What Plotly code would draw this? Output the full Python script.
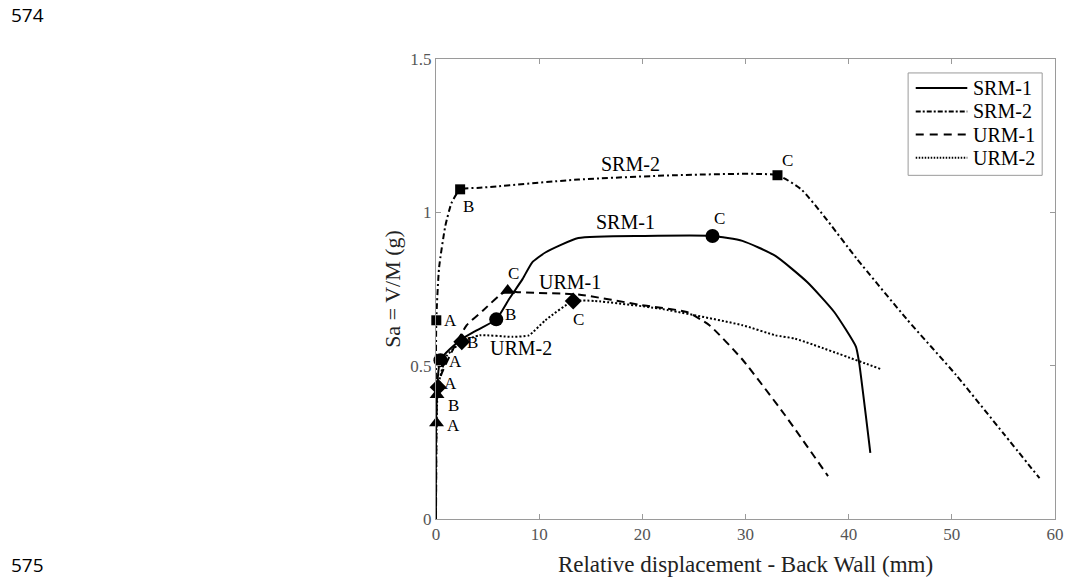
import plotly.graph_objects as go

# Capacity curves: spectral acceleration vs. relative back-wall displacement
srm1_x = [0, 0.43, 2.34, 3.93, 5.84, 7.1, 8.4, 9.33, 10.6, 13.8, 20.2, 26.8, 29.7, 32.9, 36.0, 38.6, 40.7, 41.0, 42.1]
srm1_y = [0, 0.518, 0.583, 0.615, 0.651, 0.718, 0.783, 0.837, 0.869, 0.916, 0.923, 0.923, 0.907, 0.858, 0.772, 0.675, 0.562, 0.513, 0.216]

srm2_x = [0, 0.03, 0.3, 0.9, 1.5, 2.34, 4.25, 13.8, 23.3, 33.1, 35.4, 37.6, 40.8, 45.6, 50.4, 55.1, 58.5]
srm2_y = [0, 0.648, 0.82, 0.955, 1.03, 1.075, 1.080, 1.107, 1.121, 1.121, 1.075, 0.988, 0.848, 0.653, 0.470, 0.275, 0.133]

urm1_x = [0, 0.05, 0.1, 0.5, 1.6, 2.98, 4.56, 6.15, 6.95, 7.75, 13.8, 20.2, 24.3, 26.5, 29.7, 33.8, 38.0]
urm1_y = [0, 0.313, 0.405, 0.47, 0.55, 0.632, 0.680, 0.729, 0.745, 0.740, 0.732, 0.696, 0.675, 0.632, 0.52, 0.340, 0.140]

urm2_x = [0, 0.2, 1.0, 2.5, 4.25, 7.42, 9.0, 10.6, 13.3, 15.4, 21.7, 29.7, 32.9, 34.8, 43.1]
urm2_y = [0, 0.43, 0.53, 0.578, 0.599, 0.594, 0.599, 0.648, 0.711, 0.711, 0.686, 0.632, 0.599, 0.588, 0.489]

# Performance points A, B, C of each specimen
pt_labels = ["A", "B", "C"]
srm1_pts_x = [0.43, 5.84, 26.8]
srm1_pts_y = [0.518, 0.651, 0.923]
srm2_pts_x = [0.03, 2.34, 33.1]
srm2_pts_y = [0.648, 1.075, 1.121]
urm1_pts_x = [0.05, 0.1, 6.95]
urm1_pts_y = [0.313, 0.405, 0.745]
urm2_pts_x = [0.2, 2.5, 13.3]
urm2_pts_y = [0.43, 0.578, 0.711]

x_ticks = [0, 10, 20, 30, 40, 50, 60]
y_ticks = [0, 0.5, 1, 1.5]
y_tick_text = ["0", "0.5", "1", "1.5"]

SERIF = "Liberation Serif, DejaVu Serif, Times New Roman, serif"
AXIS_GREY = "#9a9a9a"

series = [
    ("SRM-1", srm1_x, srm1_y, "solid", srm1_pts_x, srm1_pts_y, "circle", 14),
    ("SRM-2", srm2_x, srm2_y, "6px,3px,2px,3px", srm2_pts_x, srm2_pts_y, "square", 10),
    ("URM-1", urm1_x, urm1_y, "8px,5px", urm1_pts_x, urm1_pts_y, "triangle-up", 13),
    ("URM-2", urm2_x, urm2_y, "2px,2px", urm2_pts_x, urm2_pts_y, "diamond", 13),
]

fig = go.Figure()
for name, xs, ys, dash, px_, py_, sym, size in series:
    fig.add_trace(go.Scatter(
        x=xs, y=ys, mode="lines", name=name, showlegend=False, cliponaxis=False,
        line=dict(color="black", width=2, dash=dash, shape="spline", smoothing=0.5),
    ))
for name, xs, ys, dash, px_, py_, sym, size in series:
    fig.add_trace(go.Scatter(
        x=px_, y=py_, mode="markers", showlegend=False, cliponaxis=False,
        marker=dict(symbol=sym, size=size, color="black"),
    ))

# Point letters, offset (px) from each marker
letter_offsets = {
    "SRM-1": [(15, -1), (14, 5), (7, 17)],
    "SRM-2": [(14, 0), (8, -17), (10, 15)],
    "URM-1": [(17, -2), (16, -11), (6, 17)],
    "URM-2": [(12, 4), (11, -1), (5, -19)],
}
for name, xs, ys, dash, px_, py_, sym, size in series:
    for lbl, x0, y0, (dx, dy) in zip(pt_labels, px_, py_, letter_offsets[name]):
        fig.add_annotation(x=x0, y=y0, text=lbl, showarrow=False,
                           xshift=dx, yshift=dy,
                           font=dict(family=SERIF, size=17, color="black"))

# Curve names written next to each curve
curve_names = ["SRM-2", "SRM-1", "URM-1", "URM-2"]
curve_name_x = [18.9, 18.4, 13.0, 8.2]
curve_name_y = [1.156, 0.967, 0.772, 0.556]
for t, x0, y0 in zip(curve_names, curve_name_x, curve_name_y):
    fig.add_annotation(x=x0, y=y0, text=t, showarrow=False,
                       font=dict(family=SERIF, size=20, color="black"))

# Boxed key in the upper right corner (paper coordinates)
key_names = ["SRM-1", "SRM-2", "URM-1", "URM-2"]
key_dash = ["solid", "5px,2px,2px,2px", "8px,6px", "1.5px,1.5px"]
key_rows_y = [0.9367, 0.886, 0.8357, 0.7853]
fig.add_shape(type="rect", xref="paper", yref="paper",
              x0=0.7627, x1=0.9793, y0=0.7471, y1=0.9697,
              line=dict(color=AXIS_GREY, width=1), fillcolor="white", layer="above")
for t, d, yk in zip(key_names, key_dash, key_rows_y):
    fig.add_shape(type="line", xref="paper", yref="paper",
                  x0=0.775, x1=0.8583, y0=yk, y1=yk,
                  line=dict(color="black", width=2, dash=d), layer="above")
    fig.add_annotation(xref="paper", yref="paper", x=0.8646, y=yk, text=t,
                       showarrow=False, xanchor="left", yanchor="middle",
                       font=dict(family=SERIF, size=20, color="black"))

# Page line numbers
fig.add_annotation(xref="paper", yref="paper", x=-0.690, y=1.095, text="574",
                   showarrow=False, xanchor="left", yanchor="middle",
                   font=dict(family="Open Sans", size=19, color="black"))
fig.add_annotation(xref="paper", yref="paper", x=-0.690, y=-0.100, text="575",
                   showarrow=False, xanchor="left", yanchor="middle",
                   font=dict(family="Open Sans", size=19, color="black"))

axis_common = dict(
    showline=True, linecolor=AXIS_GREY, linewidth=1, mirror="ticks",
    ticks="inside", ticklen=5, tickcolor=AXIS_GREY,
    showgrid=False, zeroline=False,
    tickfont=dict(family=SERIF, size=17, color="#555555"),
)

fig.update_layout(
    width=1073, height=582,
    margin=dict(l=436, r=9, t=59, b=60),
    paper_bgcolor="white", plot_bgcolor="white",
    showlegend=False,
    xaxis=dict(range=[0, 60], tickvals=x_ticks,
               title=dict(text="Relative displacement - Back Wall (mm)",
                          font=dict(family=SERIF, size=23, color="#222222"), standoff=12),
               **axis_common),
    yaxis=dict(range=[0, 1.5], tickvals=y_ticks, ticktext=y_tick_text,
               title=dict(text="Sa = V/M (g)",
                          font=dict(family=SERIF, size=22, color="#222222"), standoff=3),
               **axis_common),
)

fig.write_html("out.html")
